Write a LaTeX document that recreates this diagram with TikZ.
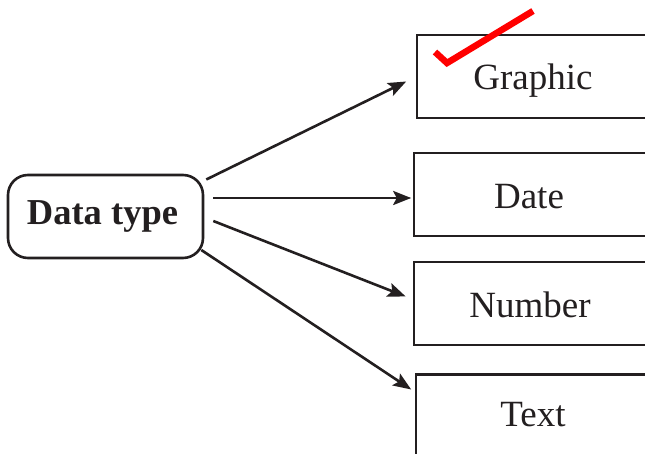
\documentclass[tikz,border=0pt]{standalone}
\usepackage{fontspec}
\setmainfont{Liberation Serif}
\usetikzlibrary{arrows.meta}
\definecolor{ink}{HTML}{231F20}
\begin{document}
\begin{tikzpicture}[x=1pt,y=-1pt,
  typebox/.style={draw=ink, line width=2.6pt, rectangle, minimum width=234pt, minimum height=83pt, inner sep=0pt},
  rootbox/.style={draw=ink, line width=2.6pt, rectangle, rounded corners=20pt, minimum width=195pt, minimum height=83pt, inner sep=0pt},
  lbl/.style={anchor=base, inner sep=0pt, text=ink, font=\fontsize{37}{40}\selectfont},
  rootlbl/.style={anchor=base, inner sep=0pt, text=ink, font=\fontsize{36.5}{40}\selectfont\bfseries},
  arr/.style={draw=ink, line width=2.6pt, -{Stealth[length=18pt,width=14pt,inset=3.5pt]}},
  tick/.style={draw=red, line width=6.5pt}
]
\useasboundingbox (0,0) rectangle (645,454);
\clip (0,0) rectangle (645,454);
\node[rootbox] (dt) at (105.5,216.5) {};
\node[rootlbl] (dtl) at (102.5,225) {Data type};
\node[typebox] (g) at (534,76.5) {};
\node[typebox] (d) at (531,194.5) {};
\node[typebox] (n) at (531,303.5) {};
\node[typebox] (t) at (533,416) {};
\node[lbl] (gl) at (533,90) {Graphic};
\node[lbl] (dl) at (529,208.3) {Date};
\node[lbl] (nl) at (530,317.3) {Number};
\node[lbl] (tl) at (533,426) {Text};
\draw[arr] ([xshift=2pt,yshift=37pt]dt.east) -- ([xshift=-9.5pt,yshift=-5pt]g.west);
\draw[arr] ([xshift=9pt,yshift=18.5pt]dt.east) -- ([xshift=-1.5pt,yshift=-3.5pt]d.west);
\draw[arr] ([xshift=9pt,yshift=-4.5pt]dt.east) -- ([xshift=-7pt,yshift=7pt]n.west);
\draw[arr] ([xshift=-3pt,yshift=-33.5pt]dt.east) -- ([xshift=-3.5pt,yshift=26.5pt]t.west);
\draw[tick] (435,52) -- (447,63) -- (533,11);
\end{tikzpicture}
\end{document}
